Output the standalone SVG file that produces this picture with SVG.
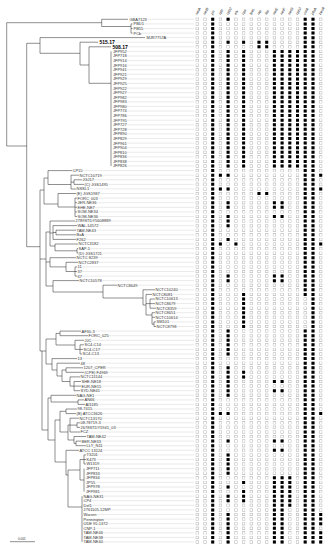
<svg xmlns="http://www.w3.org/2000/svg" width="332" height="550" viewBox="0 0 332 550">
<style>
.t{font-family:"Liberation Sans",Arial,sans-serif;font-size:4px;fill:#333;stroke:#fff;stroke-width:1;paint-order:stroke;stroke-linejoin:round}
.b{font-family:"Liberation Sans",Arial,sans-serif;font-size:5px;font-weight:bold;fill:#000;stroke:#fff;stroke-width:1;paint-order:stroke}
.h{font-family:"Liberation Sans",Arial,sans-serif;font-size:3.6px;font-style:italic;fill:#222}
.tree{fill:none;stroke:#333;stroke-width:0.55}
.lead{fill:none;stroke:#cfcfcf;stroke-width:0.45}
.eo{fill:none;stroke:#a8a8a8;stroke-width:3;stroke-dasharray:3 1.585}
.ei{fill:none;stroke:#fff;stroke-width:2.2;stroke-dasharray:2.2 2.385}
.f{fill:none;stroke:#000;stroke-width:3;stroke-dasharray:3 1.585}
</style>
<rect width="332" height="550" fill="#fff"/>
<g id="leaders">
<path class="lead" d="M129.5 19.3H194M133.5 23.9H194M133.5 28.5H194M133.5 33.1H194M146.5 37.6H194M99.5 42.2H194M112.5 46.8H194M113 51.4H194M113 56H194M113 60.6H194M113 65.2H194M113 69.7H194M113 74.3H194M113 78.9H194M113 83.5H194M113 88.1H194M113 92.7H194M113 97.2H194M113 101.8H194M113 106.4H194M113 111H194M113 115.6H194M113 120.2H194M113 124.8H194M113 129.3H194M113 133.9H194M113 138.5H194M113 143.1H194M113 147.7H194M113 152.3H194M113 156.9H194M113 161.4H194M113 166H194M72 170.6H194M79 175.2H194M82 179.8H194M84 184.4H194M76 188.9H194M76 193.5H194M77 198.1H194M77 202.7H194M77 207.3H194M77 211.9H194M77 216.5H194M75 221H194M77 225.6H194M76 230.2H194M76 234.8H194M76 239.4H194M78 244H194M78 248.6H194M78 253.1H194M76 257.7H194M78 262.3H194M77 266.9H194M77 271.5H194M77 276.1H194M79 280.6H194M117 285.2H194M155 289.8H194M152 294.4H194M155 299H194M155 303.6H194M156 308.2H194M155 312.7H194M155 317.3H194M156 321.9H194M156 326.5H194M81 331.1H194M88 335.7H194M84 340.3H194M84 344.8H194M83 349.4H194M82 354H194M77 358.6H194M80 363.2H194M83 367.8H194M84 372.3H194M80 376.9H194M81 381.5H194M81 386.1H194M80 390.7H194M76 395.3H194M84 399.9H194M85 404.4H194M77 409H194M76 413.6H194M79 418.2H194M80 422.8H194M80 427.4H194M80 432H194M86 436.5H194M81 441.1H194M86 445.7H194M79 450.3H194M86 454.9H194M86 459.5H194M86 464H194M85.5 468.6H194M85.5 473.2H194M85.5 477.8H194M85.5 482.4H194M85.5 487H194M85.5 491.6H194M83 496.1H194M83 500.7H194M83 505.3H194M83 509.9H194M83 514.5H194M83 519.1H194M83 523.7H194M83 528.2H194M83 532.8H194M83 537.4H194M83 542H194"/>
</g>
<g id="connectors">
<path class="tree" d="M6.7 22.7V146M6.7 22.7H101.7M101.7 19.3V26.5M101.7 19.3H128M101.7 26.5H131M131 23.9V33.1M131 23.9H132.5M131 28.5H132.5M131 33.1H132.5M6.7 146H26.7M26.7 43.3V246.7M26.7 43.3H40M40 37.6V53.3M40 37.6H145M40 53.3H80M80 42.2V65M80 42.2H98M80 65H89M89 46.8V83.3M89 46.8H111M89 83.3H111M111 51.4V166
M26.7 246.7H40M40 190V351
M40 190H44M44 178V204M44 178H48M48 170.6V184.5M48 170.6H72M48 184.5H71M71 175.2V189M71 175.2H79M71 182.1H74M74 179.8V184.4M74 179.8H82M74 184.4H84M71 189H76
M44 204H58M58 193.5V207M58 193.5H76M58 207H75M75 198.1V216.5M75 198.1H77M75 202.7H77M75 207.3H77M75 211.9H77M75 216.5H77
M40 259H46M46 232V286M46 232H50M50 221V246M50 221H75M50 233H53M53 225.6V239.4M53 225.6H77M53 232.5H56M56 230.2V234.8M56 230.2H76M56 234.8H76M53 239.4H76M50 246H55M55 244V250.8M55 244H78M55 250.8H77M77 248.6V253.1M77 248.6H78M77 253.1H78
M46 262H50M50 257.7V266.9M50 257.7H76M50 266.9H66M66 262.3V271.5M66 262.3H78M66 271.5H75M75 266.9V276.1M75 266.9H77M75 271.5H77M75 276.1H77
M46 286H53M53 280.6V292M53 280.6H79M53 292H103M103 285.2V298M103 285.2H117M103 298H143M143 289.8V305M143 289.8H155M143 305H146M146 294.4V315M146 294.4H152M146 303.6H150M150 299V308.2M150 299H155M150 303.6H155M150 308.2H156M146 315H152M152 312.7V324.2M152 312.7H155M152 317.3H155M152 324.2H154M154 321.9V326.5M154 321.9H156M154 326.5H156
M40 351H46M42 351V430M46 339V364M46 339H56M56 333.4V345M56 333.4H60M60 331.1V335.7M60 331.1H81M60 335.7H88M56 345H75M75 340.3V349.4M75 340.3H84M75 349.4H80M80 344.8V354M80 344.8H84M80 349.4H83M80 354H82
M46 364H52M52 358.6V370M52 358.6H77M52 370H57M57 363.2V376M57 363.2H80M57 376H62M62 370V381.5M62 370H66M66 367.8V372.3M66 367.8H83M66 372.3H84M62 381.5H70M70 376.9V386.1M70 376.9H80M70 386.1H74M74 381.5V390.7M74 381.5H81M74 386.1H81M74 390.7H80
M42 430H48M48 398V440M48 398H51M51 395.3V402M51 395.3H76M51 402H78M78 399.9V404.4M78 399.9H84M78 404.4H85
M48 440H55M55 420V462M55 420H60M60 411.3V432M60 411.3H66M66 409V413.6M66 409H77M66 413.6H76M60 432H68M68 425V440M68 425H70M70 418.2V432M70 418.2H79M70 425.1H77M77 422.8V427.4M77 422.8H80M77 427.4H80M70 432H80M68 440H74M74 436.5V443.4M74 436.5H86M74 443.4H76M76 441.1V445.7M76 441.1H81M76 445.7H86
M55 462H66M66 450.3V475M66 450.3H79M66 475H68M68 470V507M68 470H80M80 459.5V480M80 459.5H84M84 454.9V464M84 454.9H86M84 459.5H86M84 464H86M80 480H84M84 468.6V491.6M68 507H82M82 496.1V542"/>
<path class="tree" d="M10 541.7H35"/>
</g>
<g id="labels">
<text class="t" x="129.5" y="20.7">GBA7123</text>
<text class="t" x="133.5" y="25.3">PBD1</text>
<text class="t" x="133.5" y="29.9">PB55</text>
<text class="t" x="133.5" y="34.5">PCb</text>
<text class="t" x="146.5" y="39">MJR7757A</text>
<text class="b" x="99.5" y="44">515.17</text>
<text class="b" x="112.5" y="48.6">508.17</text>
<text class="t" x="113" y="52.8">JFP952</text>
<text class="t" x="113" y="57.4">JFP718</text>
<text class="t" x="113" y="62">JFP914</text>
<text class="t" x="113" y="66.6">JFP916</text>
<text class="t" x="113" y="71.1">JFP941</text>
<text class="t" x="113" y="75.7">JFP921</text>
<text class="t" x="113" y="80.3">JFP929</text>
<text class="t" x="113" y="84.9">JFP925</text>
<text class="t" x="113" y="89.5">JFP922</text>
<text class="t" x="113" y="94.1">JFP927</text>
<text class="t" x="113" y="98.6">JFP982</text>
<text class="t" x="113" y="103.2">JFP983</text>
<text class="t" x="113" y="107.8">JFP980</text>
<text class="t" x="113" y="112.4">JFP774</text>
<text class="t" x="113" y="117">JFP786</text>
<text class="t" x="113" y="121.6">JFP795</text>
<text class="t" x="113" y="126.2">JFP727</text>
<text class="t" x="113" y="130.7">JFP728</text>
<text class="t" x="113" y="135.3">JFP890</text>
<text class="t" x="113" y="139.9">JFP829</text>
<text class="t" x="113" y="144.5">JFP961</text>
<text class="t" x="113" y="149.1">JFP904</text>
<text class="t" x="113" y="153.7">JFP810</text>
<text class="t" x="113" y="158.3">JFP836</text>
<text class="t" x="113" y="162.8">JFP838</text>
<text class="t" x="113" y="167.4">JFP826</text>
<text class="t" x="72.5" y="172">CP15</text>
<text class="t" x="79.5" y="176.6">NCTC10719</text>
<text class="t" x="82.5" y="181.2">JGJ17</text>
<text class="t" x="84.5" y="185.8">(C) JGS1495</text>
<text class="t" x="76.5" y="190.3">NSSL1</text>
<text class="t" x="76.5" y="194.9">(E) JGS1987</text>
<text class="t" x="77.5" y="199.5">FORC_003</text>
<text class="t" x="77.5" y="204.1">JER-NE36</text>
<text class="t" x="77.5" y="208.7">EHE-NE7</text>
<text class="t" x="77.5" y="213.3">SOM-NE34</text>
<text class="t" x="77.5" y="217.9">SOM-NE36</text>
<text class="t" x="75.5" y="222.4">2789STDY5608889</text>
<text class="t" x="77.5" y="227">WAL-14572</text>
<text class="t" x="76.5" y="231.6">TAM-NE43</text>
<text class="t" x="76.5" y="236.2">BxA</text>
<text class="t" x="76.5" y="240.8">F262</text>
<text class="t" x="78.5" y="245.4">NCTC3182</text>
<text class="t" x="78.5" y="250">SAP-1</text>
<text class="t" x="78.5" y="254.5">(D) JGS1721</text>
<text class="t" x="76.5" y="259.1">NCTC 8239</text>
<text class="t" x="78.5" y="263.7">NCTC2837</text>
<text class="t" x="77.5" y="268.3">11</text>
<text class="t" x="77.5" y="272.9">37</text>
<text class="t" x="77.5" y="277.5">67</text>
<text class="t" x="79.5" y="282">NCTC10578</text>
<text class="t" x="117.5" y="286.6">NCTC8649</text>
<text class="t" x="155.5" y="291.2">NCTC10240</text>
<text class="t" x="152.5" y="295.8">NCTC8081</text>
<text class="t" x="155.5" y="300.4">NCTC10613</text>
<text class="t" x="155.5" y="305">NCTC8679</text>
<text class="t" x="156.5" y="309.6">NCTC8359</text>
<text class="t" x="155.5" y="314.1">NCTC8651</text>
<text class="t" x="155.5" y="318.7">NCTC10614</text>
<text class="t" x="156.5" y="323.3">SM101</text>
<text class="t" x="156.5" y="327.9">NCTC8798</text>
<text class="t" x="81.5" y="332.5">AF30-3</text>
<text class="t" x="88.5" y="337.1">FORC_025</text>
<text class="t" x="84.5" y="341.7">JJC</text>
<text class="t" x="84.5" y="346.2">SC4-C14</text>
<text class="t" x="83.5" y="350.8">SC4-C17</text>
<text class="t" x="82.5" y="355.4">SC4-C13</text>
<text class="t" x="77.5" y="360">13</text>
<text class="t" x="80.5" y="364.6">48</text>
<text class="t" x="83.5" y="369.2">1207_CPER</text>
<text class="t" x="84.5" y="373.7">(CPE) F4969</text>
<text class="t" x="80.5" y="378.3">NCTC11144</text>
<text class="t" x="81.5" y="382.9">SHE-NE18</text>
<text class="t" x="81.5" y="387.5">EUR-NE15</text>
<text class="t" x="80.5" y="392.1">SYD-NE41</text>
<text class="t" x="76.5" y="396.7">NAG-NE1</text>
<text class="t" x="84.5" y="401.3">AN66</text>
<text class="t" x="85.5" y="405.8">AI1185</text>
<text class="t" x="77.5" y="410.4">98-7415</text>
<text class="t" x="76.5" y="415">(B) ATCC3626</text>
<text class="t" x="79.5" y="419.6">NCTC13170</text>
<text class="t" x="80.5" y="424.2">08.78719-3</text>
<text class="t" x="80.5" y="428.8">2678STDY5941_03</text>
<text class="t" x="80.5" y="433.4">FCZ</text>
<text class="t" x="86.5" y="437.9">TAM-NE42</text>
<text class="t" x="81.5" y="442.5">BER-NE33</text>
<text class="t" x="86.5" y="447.1">LLY_N11</text>
<text class="t" x="79.5" y="451.7">ATCC 13124</text>
<text class="t" x="86.5" y="456.3">T3201</text>
<text class="t" x="86.5" y="460.9">K473</text>
<text class="t" x="86.5" y="465.4">W1319</text>
<text class="t" x="86" y="470">JFP711</text>
<text class="t" x="86" y="474.6">JFP833</text>
<text class="t" x="86" y="479.2">JFP834</text>
<text class="t" x="86" y="483.8">JP55</text>
<text class="t" x="86" y="488.4">JFP978</text>
<text class="t" x="86" y="493">JFP981</text>
<text class="t" x="83.5" y="497.5">NAG-NE31</text>
<text class="t" x="83.5" y="502.1">CP4</text>
<text class="t" x="83.5" y="506.7">Del1</text>
<text class="t" x="83.5" y="511.3">2761105-12MP</text>
<text class="t" x="83.5" y="515.9">Warren</text>
<text class="t" x="83.5" y="520.5">Pennington</text>
<text class="t" x="83.5" y="525.1">UDE 95-1372</text>
<text class="t" x="83.5" y="529.6">CNP-1</text>
<text class="t" x="83.5" y="534.2">TAM-NE46</text>
<text class="t" x="83.5" y="538.8">TAM-NE38</text>
<text class="t" x="83.5" y="543.4">TAM-NE40</text>
<text class="t" x="18" y="539.5" style="font-size:3px">0.005</text>
</g>
<g id="headers">
<text class="h" transform="translate(197.3 15) rotate(-60)">netA</text>
<text class="h" transform="translate(205 15) rotate(-60)">netB</text>
<text class="h" transform="translate(212.7 15) rotate(-60)">plc</text>
<text class="h" transform="translate(220.4 15) rotate(-60)">cpb</text>
<text class="h" transform="translate(228.1 15) rotate(-60)">cpb2</text>
<text class="h" transform="translate(235.9 15) rotate(-60)">etx</text>
<text class="h" transform="translate(243.6 15) rotate(-60)">cpe</text>
<text class="h" transform="translate(251.3 15) rotate(-60)">tpeL</text>
<text class="h" transform="translate(259 15) rotate(-60)">iap</text>
<text class="h" transform="translate(266.7 15) rotate(-60)">ibp</text>
<text class="h" transform="translate(274.4 15) rotate(-60)">netE</text>
<text class="h" transform="translate(282.1 15) rotate(-60)">netF</text>
<text class="h" transform="translate(289.8 15) rotate(-60)">netG</text>
<text class="h" transform="translate(297.5 15) rotate(-60)">cpb2</text>
<text class="h" transform="translate(305.2 15) rotate(-60)">colA</text>
<text class="h" transform="translate(313 15) rotate(-60)">pfoA</text>
<text class="h" transform="translate(320.7 15) rotate(-60)">becA</text>
</g>
<g id="matrix">
<path class="eo" d="M197.3 17.8V543.5M205 17.8V543.5M212.7 17.8V543.5M220.4 17.8V543.5M228.1 17.8V543.5M235.9 17.8V543.5M243.6 17.8V543.5M251.3 17.8V543.5M259 17.8V543.5M266.7 17.8V543.5M274.4 17.8V543.5M282.1 17.8V543.5M289.8 17.8V543.5M297.5 17.8V543.5M305.2 17.8V543.5M313 17.8V543.5M320.7 17.8V543.5"/>
<path class="ei" d="M197.3 18.2V543.1M205 18.2V543.1M212.7 18.2V543.1M220.4 18.2V543.1M228.1 18.2V543.1M235.9 18.2V543.1M243.6 18.2V543.1M251.3 18.2V543.1M259 18.2V543.1M266.7 18.2V543.1M274.4 18.2V543.1M282.1 18.2V543.1M289.8 18.2V543.1M297.5 18.2V543.1M305.2 18.2V543.1M313 18.2V543.1M320.7 18.2V543.1"/>
<path class="f" d="M212.7 17.8V543.5
M220.4 173.69v3M220.4 187.445v3M220.4 242.465v3M220.4 412.11v3
M228.1 17.8v3M228.1 40.725v3M228.1 49.895V167.52M228.1 173.69v3M228.1 187.445v3M228.1 201.2V208.785M228.1 214.955V227.125M228.1 237.88v3M228.1 274.56V282.145M228.1 329.58V355.505M228.1 366.26V396.77M228.1 412.11v3M228.1 439.62v3M228.1 453.375V474.715M228.1 485.47v3M228.1 494.64V502.225M228.1 512.98V543.49
M235.9 242.465v3
M243.6 40.725v3M243.6 49.895V167.52M243.6 292.9V327.995M243.6 370.845V378.43M243.6 480.885v3M243.6 490.055V502.225
M259 40.725V48.31M259 192.03v3M266.7 40.725V48.31M266.7 192.03v3
M274.4 49.895V167.52M274.4 201.2V208.785M274.4 214.955v3M274.4 274.56V282.145M274.4 380.015v3M274.4 389.185v3M274.4 439.62v3M274.4 448.79v3M274.4 476.3V543.49
M282.1 49.895V167.52M282.1 201.2V208.785M282.1 214.955v3M282.1 274.56V282.145M282.1 380.015v3M282.1 389.185v3M282.1 439.62v3M282.1 448.79v3M282.1 476.3V543.49
M289.8 49.895V167.52M289.8 476.3V506.81
M297.5 49.895V167.52
M305.2 17.8V295.9M305.2 329.58V543.49
M313 17.8V543.49
M320.7 173.69v3M320.7 187.445v3M320.7 242.465v3M320.7 412.11v3M320.7 512.98V525.15M320.7 531.32V543.49"/>
</g>
</svg>
